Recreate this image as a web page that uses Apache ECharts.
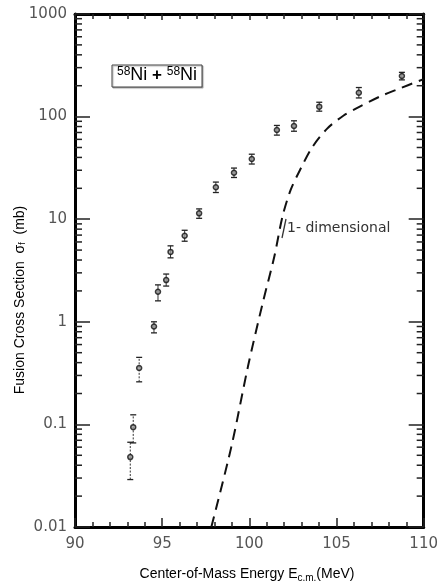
<!DOCTYPE html>
<html>
<head>
<meta charset="utf-8">
<script src="https://cdn.jsdelivr.net/npm/echarts@6/dist/echarts.min.js"></script>
<style>
  html, body { margin: 0; padding: 0; background: #fff; }
  #chart { width: 441px; height: 588px; }
</style>
</head>
<body>
<div id="chart"></div>
<script>
const energies = [93.17, 93.34, 93.68, 94.53, 94.76, 95.23, 95.48, 96.29, 97.12, 98.08, 99.12, 100.14, 101.58, 102.56, 104.01, 106.28, 108.75];
const sigma = [0.048, 0.094, 0.355, 0.9, 1.96, 2.55, 4.8, 6.9, 11.4, 20.5, 28.4, 38.6, 74, 81, 125, 171, 249];
const errLow = [0.029, 0.066, 0.26, 0.78, 1.6, 2.23, 4.2, 6.1, 10.2, 18.2, 25.5, 34.5, 66, 72, 113, 152, 228];
const errHigh = [0.067, 0.124, 0.45, 1.0, 2.29, 2.92, 5.5, 7.8, 12.6, 23.0, 31.5, 43.0, 82, 91, 138, 192, 270];

// One-dimensional barrier penetration calculation (dashed curve)
const curveE = [97.82, 98.97, 99.92, 100.76, 101.43, 101.9, 102.37, 102.94, 103.6, 104.45, 105.39, 106.33, 107.46, 108.41, 110];
const curveSigma = [0.01, 0.0607, 0.366, 1.51, 4.3, 10.6, 19.3, 31, 50, 76, 102, 125, 156, 182, 232];

// Log-axis minor ticks
const decades = [0.01, 0.1, 1, 10, 100];
const minorSteps = [2, 3, 4, 5, 6, 7, 8, 9];
const minorTicks = [];
decades.forEach(function (d) {
  minorSteps.forEach(function (m) { minorTicks.push([90, +(d * m).toPrecision(3)]); });
});

const chart = echarts.init(document.getElementById('chart'));

const labelStyle = { color: '#555', fontFamily: 'DejaVu Sans', fontSize: 15 };

const option = {
  animation: false,
  backgroundColor: '#fff',
  grid: { left: 75, top: 14, right: 13, bottom: 61, containLabel: false },
  xAxis: [
    {
      type: 'value', min: 90, max: 110, interval: 5, position: 'bottom',
      axisLine: { lineStyle: { color: '#000', width: 3 } },
      axisTick: { inside: true, length: 9, lineStyle: { color: '#222', width: 1.5 } },
      minorTick: { show: true, splitNumber: 5, length: 5, lineStyle: { color: '#222', width: 1.5 } },
      axisLabel: Object.assign({ margin: 10 }, labelStyle),
      splitLine: { show: false }
    },
    {
      type: 'value', min: 90, max: 110, interval: 5, position: 'top',
      axisLine: { lineStyle: { color: '#000', width: 3 } },
      axisTick: { inside: true, length: 6, lineStyle: { color: '#222', width: 1.5 } },
      minorTick: { show: true, splitNumber: 5, length: 5, lineStyle: { color: '#222', width: 1.5 } },
      axisLabel: { show: false },
      splitLine: { show: false }
    }
  ],
  yAxis: [
    {
      type: 'log', logBase: 10, min: 0.01, max: 1000, position: 'left',
      axisLine: { lineStyle: { color: '#000', width: 3 } },
      axisTick: { inside: true, length: 15, lineStyle: { color: '#222', width: 1.5 } },
      axisLabel: Object.assign({ margin: 8, formatter: function (v) { return String(v); } }, labelStyle),
      splitLine: { show: false }
    },
    {
      type: 'log', logBase: 10, min: 0.01, max: 1000, position: 'right',
      axisLine: { lineStyle: { color: '#000', width: 3 } },
      axisTick: { inside: true, length: 15, lineStyle: { color: '#222', width: 1.5 } },
      axisLabel: { show: false },
      splitLine: { show: false }
    }
  ],
  series: [
    {
      // minor ticks on both vertical axes
      type: 'custom',
      silent: true,
      data: minorTicks,
      renderItem: function (params, api) {
        const l = api.coord([90, api.value(1)]);
        const r = api.coord([110, api.value(1)]);
        const st = { stroke: '#222', lineWidth: 1.5 };
        return {
          type: 'group',
          children: [
            { type: 'line', shape: { x1: l[0], y1: l[1], x2: l[0] + 7, y2: l[1] }, style: st },
            { type: 'line', shape: { x1: r[0], y1: r[1], x2: r[0] - 7, y2: r[1] }, style: st }
          ]
        };
      }
    },
    {
      name: '1-dimensional',
      type: 'line',
      smooth: 0.3,
      symbol: 'none',
      data: curveE.map(function (e, i) { return [e, curveSigma[i]]; }),
      lineStyle: { color: '#111', width: 2, type: [11, 7] },
      z: 3
    },
    {
      // error bars
      type: 'custom',
      data: energies.map(function (e, i) { return [e, errLow[i], errHigh[i]]; }),
      renderItem: function (params, api) {
        const lo = api.coord([api.value(0), api.value(1)]);
        const hi = api.coord([api.value(0), api.value(2)]);
        const st = { stroke: '#222', lineWidth: 1.3 };
        const dashed = params.dataIndex < 3;
        return {
          type: 'group',
          children: [
            { type: 'line', shape: { x1: lo[0], y1: lo[1], x2: hi[0], y2: hi[1] },
              style: { stroke: '#333', lineWidth: 1, lineDash: dashed ? [2, 1.5] : null } },
            { type: 'line', shape: { x1: lo[0] - 3, y1: lo[1], x2: lo[0] + 3, y2: lo[1] }, style: st },
            { type: 'line', shape: { x1: hi[0] - 3, y1: hi[1], x2: hi[0] + 3, y2: hi[1] }, style: st }
          ]
        };
      },
      z: 4
    },
    {
      name: 'data',
      type: 'scatter',
      symbol: 'circle',
      symbolSize: 5,
      data: energies.map(function (e, i) { return [e, sigma[i]]; }),
      itemStyle: { color: '#999', borderColor: '#111', borderWidth: 1.5 },
      z: 5
    }
  ],
  graphic: [
    {
      type: 'rect',
      shape: { x: 112, y: 65, width: 90, height: 22 },
      style: { fill: '#fff', stroke: '#444', lineWidth: 1, shadowColor: 'rgba(0,0,0,0.3)', shadowOffsetX: 1, shadowOffsetY: 1, shadowBlur: 1 },
      z: 10
    },
    {
      type: 'text',
      left: 117, top: 66,
      style: {
        text: '{sup|58}{b|Ni}{p| + }{sup|58}{b|Ni}',
        rich: {
          sup: { fontFamily: 'Liberation Sans', fontSize: 12, color: '#101c38', verticalAlign: 'top', padding: [0, 0, 7, 0] },
          b: { fontFamily: 'Liberation Sans', fontSize: 18, color: '#101c38' },
          p: { fontFamily: 'Liberation Sans', fontSize: 17, fontWeight: 'bold', color: '#101c38' }
        }
      },
      z: 11
    },
    {
      type: 'line',
      shape: { x1: 282, y1: 238, x2: 286, y2: 219 },
      style: { stroke: '#333', lineWidth: 1.3 },
      z: 6
    },
    {
      type: 'text',
      left: 287, top: 221,
      style: { text: '1- dimensional', fontFamily: 'DejaVu Sans', fontSize: 14, fill: '#333' },
      z: 6
    },
    {
      type: 'text',
      x: 247, y: 574,
      style: {
        text: '{a|Center-of-Mass Energy E}{s|c.m.}{a|(MeV)}',
        align: 'center', verticalAlign: 'middle',
        rich: {
          a: { fontFamily: 'Liberation Sans', fontSize: 14, color: '#1b2440' },
          s: { fontFamily: 'Liberation Sans', fontSize: 10, color: '#1b2440', padding: [8, 0, 0, 0] }
        }
      }
    },
    {
      type: 'text',
      x: 20, y: 300,
      rotation: Math.PI / 2,
      style: {
        text: '{a|Fusion Cross Section  σ}{s|f}{a|  (mb)}',
        align: 'center', verticalAlign: 'middle',
        rich: {
          a: { fontFamily: 'Liberation Sans', fontSize: 14, color: '#1f3f7a' },
          s: { fontFamily: 'Liberation Sans', fontSize: 9, color: '#1f3f7a', padding: [6, 0, 0, 0] }
        }
      }
    }
  ]
};

chart.setOption(option);
</script>
</body>
</html>
